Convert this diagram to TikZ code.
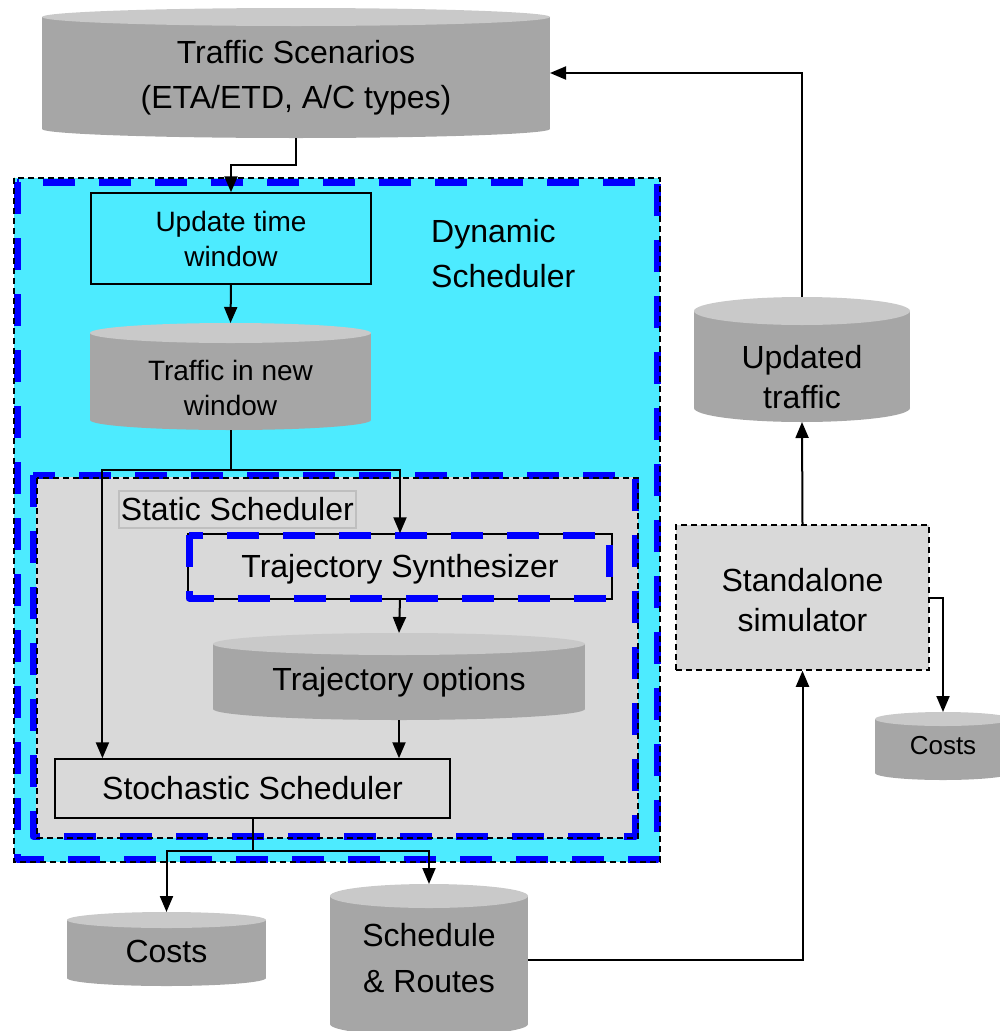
\documentclass[tikz,border=0pt]{standalone}
\usepackage{fontspec}
\setmainfont{Liberation Sans}
\usetikzlibrary{arrows.meta,calc}

\definecolor{cyanfill}{HTML}{4DEBFF}
\definecolor{lgray}{HTML}{D9D9D9}
\definecolor{cyltop}{HTML}{C9C9C9}
\definecolor{cylbody}{HTML}{A6A6A6}
\definecolor{dashblue}{HTML}{0000FF}
\definecolor{labelgray}{HTML}{BFBFBF}

\tikzset{
  conn/.style={line width=2pt, -{Triangle[length=16pt,width=13pt]}},
  wire/.style={line width=2pt},
  bluedash/.style={draw=dashblue, line width=7pt, line join=round, dash pattern=on 32pt off 24pt},
  blackdash/.style={draw=black, line width=1.5pt, dash pattern=on 6pt off 4pt},
  big/.style={font=\fontsize{32}{45}\selectfont},
  bigwide/.style={font=\fontsize{32}{46}\selectfont},
  bigtight/.style={font=\fontsize{32}{40}\selectfont},
  mid/.style={font=\fontsize{28}{35}\selectfont},
  small/.style={font=\fontsize{26}{32}\selectfont},
  procbox/.style={draw=black, line width=1.5pt, inner sep=0pt, align=center},
  shapebox/.style={inner sep=0pt, outer sep=0pt},
  ctext/.style={align=center, inner sep=0pt},
}

% database cylinder: name, x1, ytop, x2, ybot, cap radius, text style, text centre y, text
\newcommand\dbcyl[9]{%
  \fill[cylbody] (#2,#3+#6) rectangle (#4,#5-#6);
  \fill[cylbody] ({(#2+#4)/2},#5-#6) ellipse [x radius={(#4-#2)/2}, y radius=#6];
  \fill[cyltop] ({(#2+#4)/2},#3+#6) ellipse [x radius={(#4-#2)/2}, y radius=#6];
  \node[shapebox, minimum width={(#4-#2)*1pt}, minimum height={(#5-#3)*1pt}]
    (#1) at ({(#2+#4)/2},{(#3+#5)/2}) {};
  \node[ctext, #7] (#1t) at ({(#2+#4)/2},#8) {#9};
}

\begin{document}
\begin{tikzpicture}[x=1pt,y=-1pt]
\path[use as bounding box] (0,0) rectangle (999,1031);

% dynamic scheduler frame
\fill[cyanfill] (14,178) rectangle (660,862);
\draw[bluedash] (17,182) rectangle (657,859);
\draw[blackdash] (14,178) rectangle (660,862);
\node[big, anchor=west, align=left, inner sep=0pt] (dynlabel) at (431,253.5)
  {Dynamic\\Scheduler};

% static scheduler frame
\fill[lgray] (36,477) rectangle (638,838);
\draw[bluedash] (33,475) rectangle (635,836);
\draw[blackdash] (37,478) rectangle (638,838);
\node[big, draw=labelgray, line width=1.5pt, anchor=north west, inner sep=2pt,
      minimum height=37pt] (statlabel) at (118,490) {Static Scheduler};

% top traffic source
\dbcyl{ts}{42}{8}{550}{138}{9}{big}{77.5}{Traffic Scenarios\\(ETA/ETD, A/C types)}

% update window box
\node[procbox, mid, fill=cyanfill, minimum width=280pt, minimum height=91pt]
  (upd) at (231,238.5) {Update time\\window};

\dbcyl{tnw}{90}{323}{371}{430}{10}{mid}{388}{Traffic in new\\window}

% trajectory synthesizer
\node[procbox, minimum width=424pt, minimum height=65pt] (tsy) at (400,566.5) {};
\draw[bluedash] (189,535) rectangle (609,598);
\node[ctext, big] (tsyt) at (400,569) {Trajectory Synthesizer};

\dbcyl{topt}{213}{633}{585}{720}{11}{big}{682}{Trajectory options}

\node[procbox, big, fill=lgray, minimum width=395pt, minimum height=59pt]
  (ss) at (252.5,788.5) {Stochastic Scheduler};

% outputs
\dbcyl{costs}{67}{912}{266}{986}{8}{big}{951}{Costs}
\dbcyl{sched}{330}{884}{528}{1036}{12}{bigwide}{958}{Schedule\\\& Routes}

% standalone simulator
\node[blackdash, fill=lgray, inner sep=0pt, minimum width=253pt, minimum height=145pt]
  (sim) at (802.5,597.5) {};
\node[ctext, bigtight] (simt) at (802.5,600) {Standalone\\simulator};

\dbcyl{upt}{694}{297}{910}{422}{14}{bigtight}{377}{Updated\\traffic}
\dbcyl{costsr}{875}{712}{1011}{780}{7}{small}{746}{Costs}

% connectors
\draw[conn] (ts.south) -- ++(0,27) -| (upd.north);
\draw[conn] (upd.south) -- (tnw.north);
\draw[wire] (tnw.south) -- ++(0,40) coordinate (split1);
\coordinate (ssin) at ($(ss.north west)!0.1215!(ss.north east)$);
\draw[conn] (split1) -| (ssin);
\draw[conn] (split1) -| (tsy.north);
\draw[conn] (tsy.south) -- (topt.north);
\draw[conn] (topt.south) -- (topt.south |- ss.north);
\draw[wire] (ss.south) -- ++(0,32) coordinate (split2);
\draw[conn] (split2) -| (costs.north);
\draw[conn] (split2) -| (sched.north);
\draw[conn] (sched.east) -| (sim.south);
\draw[conn] (sim.east) -| (costsr.north);
\draw[conn] (sim.north) -- (upt.south);
\draw[conn] (upt.north) |- (ts.east);
\end{tikzpicture}
\end{document}
